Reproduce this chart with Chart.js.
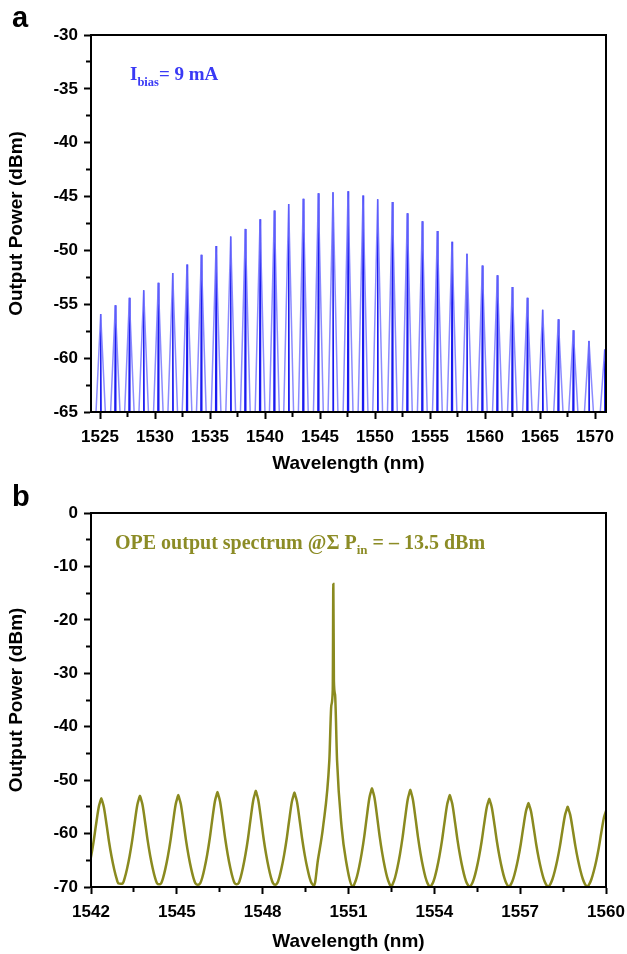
<!DOCTYPE html>
<html>
<head>
<meta charset="utf-8">
<title>Output power spectra</title>
<script src="https://cdn.jsdelivr.net/npm/chart.js@4.4.1/dist/chart.umd.min.js"></script>
<style>
  html, body { margin: 0; padding: 0; background: #fff; }
  #page { position: relative; width: 627px; height: 954px; overflow: hidden; }
  canvas { position: absolute; left: 0; }
  #chartA { top: 0; }
  #chartB { top: 477px; }
  .panel { position: absolute; margin: 0; font: bold 29px "Liberation Sans", Arial, sans-serif; line-height: 29px; }
  .note { position: absolute; font: bold 19px "Liberation Serif", "Times New Roman", serif; line-height: 19px; white-space: nowrap; }
  .note sub { font-size: 12.5px; line-height: 0; vertical-align: -6px; }
  #noteA { left: 130px; top: 64px; color: #3a3af5; }
  #noteB { left: 115px; top: 532px; font-size: 20px; line-height: 20px; color: #8c8c26; }
  #noteB sub { font-size: 13px; vertical-align: -5px; }
</style>
</head>
<body>
<div id="page">
  <canvas id="chartA" width="627" height="477"></canvas>
  <canvas id="chartB" width="627" height="477"></canvas>
  <div class="panel" style="left:12px;top:3px">a</div>
  <div class="panel" style="left:12px;top:482px">b</div>
  <div class="note" id="noteA">I<sub>bias</sub>= 9 mA</div>
  <div class="note" id="noteB">OPE output spectrum @&Sigma; P<sub>in</sub> = &ndash; 13.5 dBm</div>
</div>
<script>
// panel a: comb lines at I_bias = 9 mA
const aPeakNm = [1525.06, 1526.39, 1527.67, 1528.97, 1530.30, 1531.61, 1532.91, 1534.21, 1535.55,
  1536.88, 1538.21, 1539.55, 1540.85, 1542.15, 1543.48, 1544.85, 1546.18, 1547.55, 1548.91,
  1550.24, 1551.58, 1552.94, 1554.30, 1555.67, 1557.00, 1558.36, 1559.76, 1561.12, 1562.48,
  1563.85, 1565.24, 1566.67, 1568.03, 1569.45, 1570.88];
const aPeakDbm = [-55.9, -55.1, -54.4, -53.7, -53.0, -52.1, -51.3, -50.4, -49.6,
  -48.7, -48.0, -47.1, -46.3, -45.7, -45.2, -44.7, -44.6, -44.5, -44.9,
  -45.25, -45.5, -46.55, -47.3, -48.2, -49.2, -50.3, -51.4, -52.3, -53.4,
  -54.4, -55.5, -56.4, -57.4, -58.4, -59.2];
const aSkirtNm = 0.47;   // half width where a line leaves the floor
const aCoreNm = 0.05;
const aFloorDbm = -66;   // noise floor sits below the axis
const aXMajor = [1525, 1530, 1535, 1540, 1545, 1550, 1555, 1560, 1565, 1570];
const aXMinor = [1527.5, 1532.5, 1537.5, 1542.5, 1547.5, 1552.5, 1557.5, 1562.5, 1567.5];
const aYMajor = [-30, -35, -40, -45, -50, -55, -60, -65];
const aYMinor = [-32.5, -37.5, -42.5, -47.5, -52.5, -57.5, -62.5];

// panel b: OPE output spectrum
const bPeakNm = [1542.36, 1543.71, 1545.05, 1546.42, 1547.76, 1549.11,
  1551.82, 1553.16, 1554.54, 1555.92, 1557.29, 1558.66, 1560.02];
const bPeakDbm = [-53.4, -52.9, -52.8, -52.2, -52.0, -52.3,
  -51.5, -51.8, -52.8, -53.5, -54.3, -55.0, -55.5];
const bValleyNm = [1541.69, 1543.04, 1544.38, 1545.74, 1547.09, 1548.44, 1549.80,
  1551.15, 1552.49, 1553.85, 1555.23, 1556.61, 1557.98, 1559.34];
const bValleyDbm = [-69.4, -69.4, -69.5, -69.6, -69.5, -69.6, -69.7,
  -69.9, -69.9, -69.9, -69.9, -69.9, -69.9, -69.9];
// flank of one comb line: distance from centre (nm) and share of the drop to the floor
const bShapeNm = [0, 0.03, 0.09, 0.19, 0.27, 0.36, 0.45, 0.53, 0.60];
const bShapeDrop = [0, 0.03, 0.10, 0.31, 0.49, 0.66, 0.80, 0.90, 0.96];
const bFloorDbm = -70.0;
// pump line at 1550.47 nm
const bPumpNm = [1549.93, 1550.11, 1550.33, 1550.40, 1550.45, 1550.47, 1550.49, 1550.53, 1550.60, 1550.76, 1550.91];
const bPumpDbm = [-65.0, -58.8, -46.3, -36.0, -33.0, -13.3, -31.5, -34.0, -46.3, -58.8, -65.0];
const bXMajor = [1542, 1545, 1548, 1551, 1554, 1557, 1560];
const bXMinor = [1543.5, 1546.5, 1549.5, 1552.5, 1555.5, 1558.5];
const bYMajor = [0, -10, -20, -30, -40, -50, -60, -70];
const bYMinor = [-5, -15, -25, -35, -45, -55, -65];

Chart.defaults.font.family = '"Liberation Sans", Arial, sans-serif';
Chart.defaults.color = '#000';

const skirtA = [], coreA = [];
aPeakNm.forEach((nm, i) => {
  skirtA.push({ x: nm - aSkirtNm, y: aFloorDbm }, { x: nm, y: aPeakDbm[i] }, { x: nm + aSkirtNm, y: aFloorDbm });
  coreA.push({ x: nm - aCoreNm, y: aFloorDbm }, { x: nm, y: aPeakDbm[i] }, { x: nm + aCoreNm, y: aFloorDbm });
});

const traceB = [];
bPeakNm.forEach((nm, i) => {
  const p = bPeakDbm[i];
  bShapeNm.forEach((o, k) => {
    const y = p + bShapeDrop[k] * (bFloorDbm - p);
    traceB.push({ x: nm + o, y });
    if (o > 0) traceB.push({ x: nm - o, y });
  });
});
bValleyNm.forEach((nm, i) => traceB.push({ x: nm, y: bValleyDbm[i] }));
bPumpNm.forEach((nm, i) => traceB.push({ x: nm, y: bPumpDbm[i] }));
traceB.sort((p, q) => p.x - q.x);

const frame = {
  id: 'frame',
  afterDraw(chart) {
    const { ctx, chartArea: a } = chart;
    ctx.save();
    ctx.strokeStyle = '#000';
    ctx.lineWidth = 2;
    ctx.strokeRect(a.left, a.top, a.right - a.left, a.bottom - a.top);
    ctx.restore();
  }
};

function tickList(major, minor) {
  return scale => {
    scale.ticks = major.map(v => ({ value: v, major: true }))
      .concat(minor.map(v => ({ value: v, major: false })))
      .sort((p, q) => p.value - q.value);
  };
}

const tickFont = { size: 17, weight: 'bold' };
const titleFont = { size: 19, weight: 'bold' };

function axisX(min, max, major, minor, height, titlePad) {
  return {
    type: 'linear', min, max,
    afterBuildTicks: tickList(major, minor),
    afterFit: s => { s.height = height; s.paddingLeft = 0; s.paddingRight = 0; },
    border: { display: true, color: '#000', width: 2 },
    grid: {
      drawOnChartArea: false, tickLength: 7, tickWidth: 2, tickColor: '#000',
      tickBorderDash: c => (c.tick && !c.tick.major ? [4, 20] : [])
    },
    ticks: { autoSkip: false, maxRotation: 0, padding: 8, font: tickFont,
      callback: (v, i, t) => (t[i].major ? String(v) : '') },
    title: { display: true, text: 'Wavelength (nm)', font: titleFont, padding: { top: 0, bottom: titlePad } }
  };
}

function axisY(min, max, major, minor) {
  return {
    type: 'linear', min, max,
    afterBuildTicks: tickList(major, minor),
    afterFit: s => { s.width = 91; },
    border: { display: true, color: '#000', width: 2 },
    grid: {
      drawOnChartArea: false, tickLength: 7, tickWidth: 2, tickColor: '#000',
      tickBorderDash: c => (c.tick && !c.tick.major ? [0, 2, 4, 20] : [])
    },
    ticks: { autoSkip: false, padding: 6, font: tickFont,
      callback: (v, i, t) => (t[i].major ? String(v) : '') },
    title: { display: true, text: 'Output Power (dBm)', font: titleFont, padding: { top: 5, bottom: 0 } }
  };
}

const common = {
  responsive: false,
  animation: false,
  events: [],
  plugins: { legend: { display: false }, tooltip: { enabled: false } },
  elements: { point: { radius: 0 } }
};

new Chart(document.getElementById('chartA'), {
  type: 'line',
  data: {
    datasets: [
      { data: skirtA, borderColor: 'rgba(110,110,255,0.8)', borderWidth: 1.5, tension: 0 },
      { data: coreA, borderColor: '#1a1af0', borderWidth: 1.3, tension: 0 }
    ]
  },
  options: Object.assign({}, common, {
    layout: { padding: { top: 35, right: 21, bottom: 0, left: 0 } },
    scales: {
      x: axisX(1524.18, 1571.0, aXMajor, aXMinor, 65, 2),
      y: axisY(-65, -30, aYMajor, aYMinor)
    }
  }),
  plugins: [frame]
});

new Chart(document.getElementById('chartB'), {
  type: 'line',
  data: {
    datasets: [
      { data: traceB, borderColor: '#8a8a1f', borderWidth: 2.5, cubicInterpolationMode: 'monotone' }
    ]
  },
  options: Object.assign({}, common, {
    layout: { padding: { top: 36, right: 21, bottom: 0, left: 0 } },
    scales: {
      x: axisX(1542, 1560, bXMajor, bXMinor, 67, 1),
      y: axisY(-70, 0, bYMajor, bYMinor)
    }
  }),
  plugins: [frame]
});
</script>
</body>
</html>
